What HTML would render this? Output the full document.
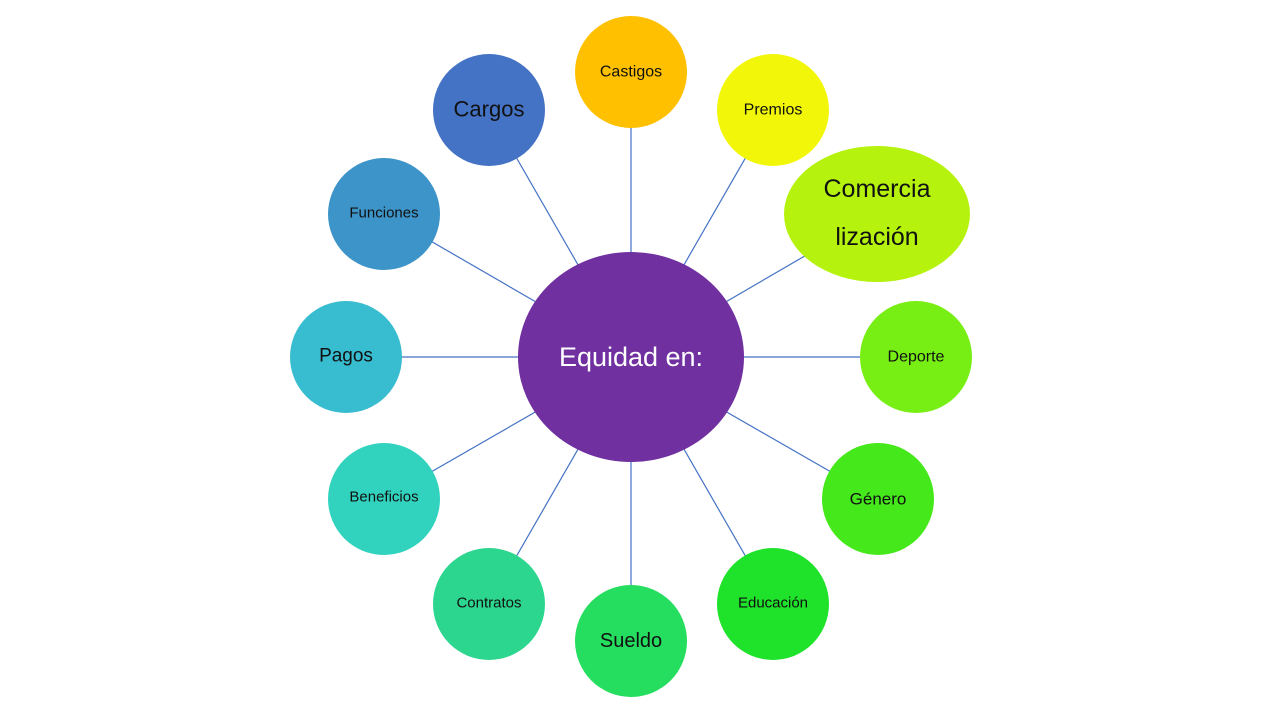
<!DOCTYPE html>
<html><head><meta charset="utf-8"><style>
body{margin:0;background:#fff;}
svg text{font-family:"Liberation Sans",sans-serif;text-anchor:middle;dominant-baseline:central;fill:#111;}
</style></head><body>
<svg width="1280" height="720" viewBox="0 0 1280 720" xmlns="http://www.w3.org/2000/svg">
<g stroke="#4472c4" stroke-width="1.2">
<line x1="631" y1="357" x2="631" y2="72"/>
<line x1="631" y1="357" x2="773" y2="110"/>
<line x1="631" y1="357" x2="877" y2="214"/>
<line x1="631" y1="357" x2="916" y2="357"/>
<line x1="631" y1="357" x2="878" y2="499"/>
<line x1="631" y1="357" x2="773" y2="604"/>
<line x1="631" y1="357" x2="631" y2="641"/>
<line x1="631" y1="357" x2="489" y2="604"/>
<line x1="631" y1="357" x2="384" y2="499"/>
<line x1="631" y1="357" x2="346" y2="357"/>
<line x1="631" y1="357" x2="384" y2="214"/>
<line x1="631" y1="357" x2="489" y2="110"/>
</g>
<ellipse cx="631" cy="357" rx="113" ry="105" fill="#7030a0"/>
<text x="631" y="357" font-size="27" style="fill:#fff">Equidad en:</text>
<circle cx="631" cy="72" r="56" fill="#ffc000"/><text x="631" y="72" font-size="16">Castigos</text>
<circle cx="773" cy="110" r="56" fill="#f2f70a"/><text x="773" y="110" font-size="16">Premios</text>
<ellipse cx="877" cy="214" rx="93" ry="68" fill="#b5f20d"/><text x="877" y="189" font-size="25">Comercia</text><text x="877" y="237" font-size="25">lización</text>
<circle cx="916" cy="357" r="56" fill="#78ef14"/><text x="916" y="357" font-size="16">Deporte</text>
<circle cx="878" cy="499" r="56" fill="#45e81a"/><text x="878" y="499" font-size="17">Género</text>
<circle cx="773" cy="604" r="56" fill="#1fe22a"/><text x="773" y="603" font-size="15">Educación</text>
<circle cx="631" cy="641" r="56" fill="#25dd5f"/><text x="631" y="641" font-size="20">Sueldo</text>
<circle cx="489" cy="604" r="56" fill="#2dd68e"/><text x="489" y="603" font-size="15">Contratos</text>
<circle cx="384" cy="499" r="56" fill="#32d3be"/><text x="384" y="497" font-size="15">Beneficios</text>
<circle cx="346" cy="357" r="56" fill="#38bcd0"/><text x="346" y="356" font-size="19">Pagos</text>
<circle cx="384" cy="214" r="56" fill="#3d94c8"/><text x="384" y="213" font-size="15">Funciones</text>
<circle cx="489" cy="110" r="56" fill="#4472c4"/><text x="489" y="109" font-size="22">Cargos</text>
</svg>
</body></html>
